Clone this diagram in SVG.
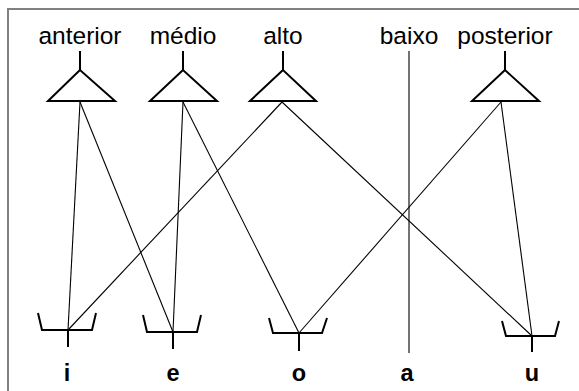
<svg xmlns="http://www.w3.org/2000/svg" width="579" height="391" viewBox="0 0 579 391">
<style>
.frame{fill:#fff;stroke:#808080;stroke-width:2}
.sym{fill:none;stroke:#000;stroke-width:2}
.edge{fill:none;stroke:#000;stroke-width:1.1}
.top{font-family:"Liberation Sans",Arial,sans-serif;font-size:24.5px;fill:#000;text-anchor:middle}
.bot{font-family:"Liberation Sans",Arial,sans-serif;font-size:23.5px;font-weight:bold;fill:#000;text-anchor:middle}
</style>
<rect class="frame" x="8" y="9" width="620" height="420"/>
<g id="connectors">
<line class="edge" x1="80" y1="102" x2="68" y2="330"/>
<line class="edge" x1="80" y1="102" x2="173" y2="332"/>
<line class="edge" x1="183" y1="102" x2="173" y2="332"/>
<line class="edge" x1="183" y1="102" x2="299" y2="333"/>
<line class="edge" x1="282" y1="102" x2="68" y2="330"/>
<line class="edge" x1="282" y1="102" x2="532" y2="336"/>
<line class="edge" x1="501" y1="102" x2="299" y2="333"/>
<line class="edge" x1="501" y1="102" x2="532" y2="336"/>
</g>
<g id="anterior">
<text class="top" x="80" y="44">anterior</text>
<path class="sym" d="M80,51V70M80,70L48,101H115Z"/>
</g>
<g id="medio">
<text class="top" x="183" y="44">médio</text>
<path class="sym" d="M183,51V70M183,70L150,101H217Z"/>
</g>
<g id="alto">
<text class="top" x="283" y="44">alto</text>
<path class="sym" d="M283,51V70M283,70L250,101H316Z"/>
</g>
<g id="baixo">
<text class="top" x="409" y="44">baixo</text>
<line class="edge" x1="409" y1="51" x2="409" y2="353"/>
</g>
<g id="posterior">
<text class="top" x="505" y="44">posterior</text>
<path class="sym" d="M505,51V70M505,70L472,101H539Z"/>
</g>
<g id="i">
<path class="sym" d="M38,313L42,330H92L96,313M68,330V347"/>
<text class="bot" x="67" y="381">i</text>
</g>
<g id="e">
<path class="sym" d="M143,315L147,332H197L201,315M173,332V349"/>
<text class="bot" x="173" y="381">e</text>
</g>
<g id="o">
<path class="sym" d="M269,318L273,333H322L327,318M299,333V351"/>
<text class="bot" x="299" y="381">o</text>
</g>
<g id="a">
<text class="bot" x="407" y="381">a</text>
</g>
<g id="u">
<path class="sym" d="M502,321L506,336H555L559,321M532,336V352"/>
<text class="bot" x="532" y="381">u</text>
</g>
</svg>
